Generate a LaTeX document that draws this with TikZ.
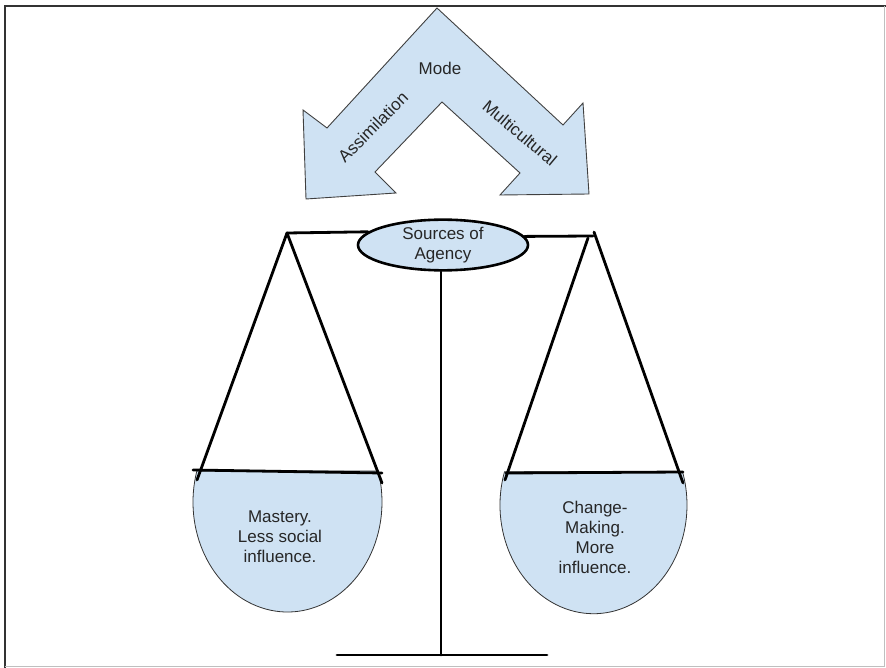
\documentclass[tikz,border=0pt]{standalone}
\usepackage{fontspec}
\setmainfont{Liberation Sans}
\usetikzlibrary{shapes.geometric}
\definecolor{paleblue}{HTML}{CFE2F3}

\begin{document}
\begin{tikzpicture}[x=1pt,y=-1pt]
      \tikzstyle{rod}=[line width=2.8pt,line cap=round]
      \tikzstyle{pan}=[fill=paleblue,draw=black!80,line width=0.8pt]
      \tikzstyle{txt}=[font=\fontsize{17}{20}\selectfont,align=center,text=black!85]
      \useasboundingbox (0,0) rectangle (886,668);
      % frame
      \draw[line width=1.6pt,black!80] (5,668) -- (5,6) -- (886,6);
      \draw[line width=1.2pt,black!25] (884.5,6) -- (884.5,666.5) -- (5,666.5);
      % chevron
      \draw[fill=paleblue,draw=black!75,line width=0.9pt]
        (437,8) -- (327,128) -- (303,110) -- (306,199) -- (396,193) -- (375,172)
        -- (442,102) -- (520,173) -- (500,195) -- (589,194) -- (583,103) -- (563,125) -- cycle;
      \node[txt] (mode) at (440,68) {Mode};
      \node[txt,rotate=45] (assim) at (373,127) {Assimilation};
      \node[txt,rotate=-40] (multi) at (520,133) {Multicultural};
      % pivot
      \node[txt,ellipse,draw=black,fill=paleblue,line width=2.6pt,
        minimum width=170pt,minimum height=50pt,inner sep=0pt] (agency) at (443,245) {Sources of\\Agency};
      \coordinate (hangL) at (287,233);
      \coordinate (hangR) at (593,236);
      \coordinate (hangRa) at (588,238);
      \coordinate (hangRb) at (594,232);
      \coordinate (base) at (441,655);
      \coordinate (baseL) at (337,655);
      \coordinate (baseR) at (547,655);
      \draw[rod] (hangL) -- (agency.170);
      \draw[rod] (agency.6) -- (hangR);
      \draw[rod] (agency.south -| base) -- (base);
      \draw[rod] (baseL) -- (baseR);
      % pans
      \draw[pan] (287.5,502) ++(196.4:94.5 and 110)
        arc[start angle=196.4,end angle=-16.4,x radius=94.5,y radius=110] -- cycle;
      \draw[pan] (593.5,505) ++(197.8:93.5 and 108.7)
        arc[start angle=197.8,end angle=-17.8,x radius=93.5,y radius=108.7] -- cycle;
      \coordinate (panLa) at (193,470);
      \coordinate (panLb) at (382,473);
      \coordinate (panRa) at (506,473);
      \coordinate (panRb) at (683,472);
      \draw[rod] (panLa) -- (panLb);
      \draw[rod] (panRa) -- (panRb);
      % ropes
      \draw[rod] (hangL) -- (197,480);
      \draw[rod] (hangL) -- (382,483);
      \draw[rod] (hangRa) -- (505,480);
      \draw[rod] (hangRb) -- (683,483);
      \node[txt] (mastery) at (280,537) {Mastery.\\Less social\\influence.};
      \node[txt] (change) at (595,537) {Change-\\Making.\\More\\influence.};
\end{tikzpicture}
\end{document}
